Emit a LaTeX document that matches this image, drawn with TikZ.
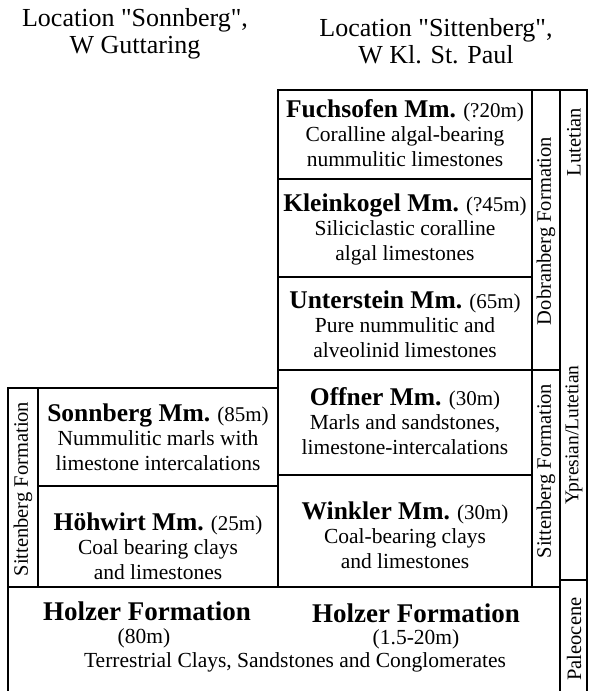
\documentclass[tikz,border=0pt]{standalone}
\usepackage{fontspec}
\setmainfont{Liberation Serif}[Ligatures=TeXOff]
\newcommand\membname[2]{{\fontsize{25.5}{25}\selectfont\bfseries #1} {\fontsize{21}{25}\selectfont(#2)}}
\begin{document}
\begin{tikzpicture}[x=1pt,y=-1pt,line width=1.6pt,
  ttl/.style={font=\fontsize{26}{27}\selectfont, align=center, inner sep=0pt},
  desc/.style={font=\fontsize{21.5}{24.5}\selectfont, align=center, inner sep=0pt},
  vlab/.style={font=\fontsize{20.5}{22}\selectfont, rotate=90, inner sep=0pt},
  hz/.style={font=\fontsize{27}{27}\selectfont\bfseries, inner sep=0pt}]
\useasboundingbox (0,0) rectangle (589,691);
% titles
\node[ttl] (t1) at (135,34) {Location "Sonnberg",\\W Guttaring};
\node[ttl] (t2) at (436,41) {Location "Sittenberg",\\W Kl. St. Paul};
% right block frame
\draw (278,587) -- (278,90) -- (587,90) -- (587,691);
\draw (532,90) -- (532,587);
\draw (560,90) -- (560,691);
\draw (278,179) -- (532,179);
\draw (278,277) -- (532,277);
\draw (278,370) -- (560,370);
\draw (278,475) -- (532,475);
% left block frame
\draw (8,691) -- (8,388) -- (278,388);
\draw (38,388) -- (38,587);
\draw (38,486) -- (278,486);
% Holzer top and Paleocene
\draw (8,587) -- (560,587);
\draw (560,580) -- (587,580);
% members right
\node[desc] (fu) at (405,133) {\membname{Fuchsofen Mm.}{?20m}\\Coralline algal-bearing\\nummulitic limestones};
\node[desc] (kl) at (405,229) {\membname{Kleinkogel Mm.}{?45m}\\Siliciclastic coralline\\algal limestones};
\node[desc] (un) at (405,324) {\membname{Unterstein Mm.}{65m}\\Pure nummulitic and\\alveolinid limestones};
\node[desc] (of) at (405,421) {\membname{Offner Mm.}{30m}\\Marls and sandstones,\\limestone-intercalations};
\node[desc] (wi) at (405,535) {\membname{Winkler Mm.}{30m}\\Coal-bearing clays\\and limestones};
% members left
\node[desc] (so) at (158,437) {\membname{Sonnberg Mm.}{85m}\\Nummulitic marls with\\limestone intercalations};
\node[desc] (ho) at (158,546) {\membname{Höhwirt Mm.}{25m}\\Coal bearing clays\\and limestones};
% Holzer
\node[hz] (h1) at (147,611) {Holzer Formation};
\node[desc] (h1b) at (144,638) {(80m)};
\node[hz] (h2) at (416,613) {Holzer Formation};
\node[desc] (h2b) at (416,639) {(1.5-20m)};
\node[desc] (h3) at (295,662) {Terrestrial Clays, Sandstones and Conglomerates};
% vertical labels
\node[vlab] (fl) at (23,489) {Sittenberg Formation};
\node[vlab] (fd) at (546,231) {Dobranberg Formation};
\node[vlab] (fs) at (546,471) {Sittenberg Formation};
\node[vlab] (al) at (574,142) {Lutetian};
\node[vlab, font=\fontsize{19.5}{22}\selectfont] (ay) at (574,435) {Ypresian/Lutetian};
\node[vlab] (ap) at (574,639) {Paleocene};
\end{tikzpicture}
\end{document}
